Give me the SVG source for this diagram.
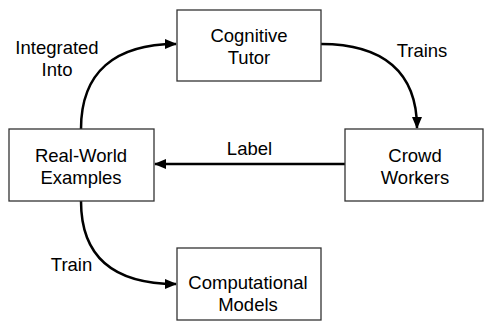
<svg xmlns="http://www.w3.org/2000/svg" width="484" height="322" viewBox="0 0 484 322">
<defs>
<style>
.box{fill:#fff;stroke:#333;stroke-width:1.3}
.t{font-family:"Liberation Sans",Arial,sans-serif;font-size:18.5px;fill:#000;text-anchor:middle}
.c{fill:none;stroke:#000;stroke-width:2.5}
</style>
<marker id="ah" markerWidth="12" markerHeight="10" refX="11" refY="5" orient="auto" markerUnits="userSpaceOnUse">
<path d="M0,0 L12,5 L0,10 Z" fill="#000"/>
</marker>
</defs>
<rect width="484" height="322" fill="#fff"/>
<g id="connectors">
<path class="c" d="M81,129 C81,72 115,44 176,44" marker-end="url(#ah)"/>
<path class="c" d="M321,44 C383,44 417,72 417,128" marker-end="url(#ah)"/>
<path class="c" d="M345,164 L155,164" marker-end="url(#ah)"/>
<path class="c" d="M81,201 C81,258 115,284 176,284" marker-end="url(#ah)"/>
<text class="t" x="57" y="54">Integrated</text>
<text class="t" x="57" y="76">Into</text>
<text class="t" x="422" y="57">Trains</text>
<text class="t" x="249.5" y="155">Label</text>
<text class="t" x="71.5" y="271">Train</text>
</g>
<g id="cognitive-tutor">
<rect class="box" x="177" y="10" width="144" height="71"/>
<text class="t" x="249" y="41.5">Cognitive</text>
<text class="t" x="249" y="63.5">Tutor</text>
</g>
<g id="crowd-workers">
<rect class="box" x="345" y="129" width="138" height="72"/>
<text class="t" x="415" y="162">Crowd</text>
<text class="t" x="415" y="184">Workers</text>
</g>
<g id="real-world-examples">
<rect class="box" x="9" y="129" width="145" height="72"/>
<text class="t" x="81" y="161.5">Real-World</text>
<text class="t" x="81" y="183.5">Examples</text>
</g>
<g id="computational-models">
<rect class="box" x="177" y="248" width="144" height="72"/>
<text class="t" x="248" y="288.5">Computational</text>
<text class="t" x="248" y="310.5">Models</text>
</g>
</svg>
